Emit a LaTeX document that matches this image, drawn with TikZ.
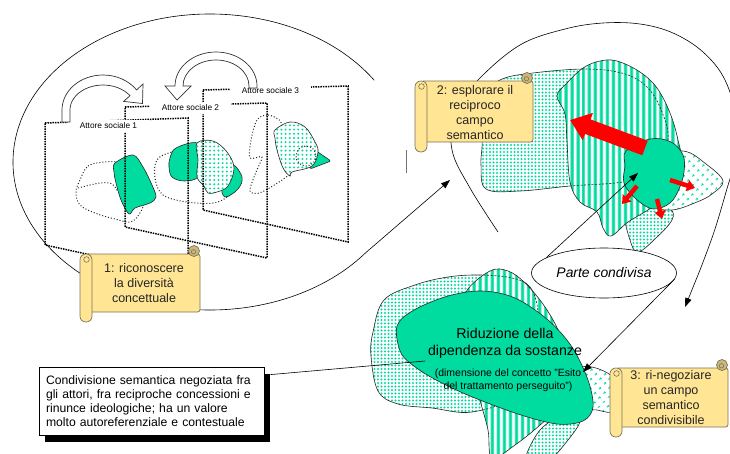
\documentclass[tikz,border=0pt]{standalone}
\usepackage{fontspec}
\setmainfont{Liberation Sans}
\usetikzlibrary{arrows.meta,patterns.meta,shadows,calc,shapes.geometric}

\definecolor{mint}{HTML}{00DCA0}
\definecolor{scrollfill}{HTML}{FFE594}
\definecolor{scrollcurl}{HTML}{CDB77C}
\definecolor{scrollline}{HTML}{7A7355}

\tikzset{
  thinline/.style={draw=black, line width=0.6pt},
  conn/.style={draw=black, line width=0.6pt, -{Triangle[width=6.5pt,length=9pt]}},
  frame/.style={draw=black, densely dotted, line width=1.5pt},
  ghost/.style={draw=black!85, dotted, line width=1pt},
  blobline/.style={draw=black!85, line width=0.6pt},
  hiddenline/.style={draw=black!85, line width=0.6pt, dash pattern=on 2pt off 1.6pt},
  greenblob/.style={fill=mint, draw=black!85, line width=0.6pt},
  finedots/.style={preaction={fill=white}, pattern={Dots[distance=3.5pt, radius=1.1pt]}, pattern color=mint},
  smalldots/.style={preaction={fill=white}, pattern={Dots[distance=4.2pt, radius=1.1pt]}, pattern color=mint},
  sparsedots/.style={preaction={fill=white}, pattern={Dots[distance=6.5pt, radius=1.35pt, angle=45]}, pattern color=mint},
  stripes/.style={preaction={fill=white}, pattern={Lines[angle=90, distance=6.4pt, line width=3.4pt]}, pattern color=mint},
  hollow/.style={fill=white, draw=black!80, line width=0.7pt},
  actorlbl/.style={fill=white, inner xsep=12pt, inner ysep=2.5pt, font=\fontsize{8.3}{10}\selectfont},
  scrolltext/.style={align=center, inner sep=0pt, text=black!85, font=\fontsize{12.5}{15}\selectfont},
  bigred/.style={draw=red, line width=15.5pt, -{Triangle[width=28pt,length=19pt]}},
  smallred/.style={draw=red, line width=4.5pt, -{Triangle[width=11pt,length=8pt]}},
  pics/scroll/.style n args={2}{code={
    \filldraw[draw=scrollline, fill=scrollfill, line width=0.7pt, rounded corners=2.5pt]
      (6,9) -- (#1,9) -- (#1,#2-10) -- (6,#2-10) -- cycle;
    \filldraw[draw=scrollline, fill=scrollcurl, line width=0.7pt] (#1-6,6) circle[radius=5.5];
    \draw[scrollline, line width=0.6pt] (#1-6.5,6.8) circle[radius=2.2];
    \filldraw[draw=scrollline, fill=scrollfill, line width=0.7pt, rounded corners=5.8pt] (0,9) rectangle (12,#2);
    \filldraw[draw=scrollline, fill=scrollfill, line width=0.6pt] (6.5,14.5) circle[radius=2.8];
  }},
}

% outlines of the overlapping semantic fields
\newcommand\shpA{plot[smooth cycle, tension=0.6] coordinates {(478,100) (500,80) (533,73) (587,69) (625,74) (648,88) (662,112) (668,140) (655,172) (623,182) (570,186) (520,191) (486,189) (481,165) (482,140) (476,118)}}
\newcommand\shpB{plot[smooth cycle, tension=0.6] coordinates {(557,96) (566,84) (583,68) (600,61) (617,61) (640,72) (657,88) (670,113) (678,140) (682,168) (668,196) (648,210) (628,222) (611,236) (603,228) (597,212) (580,202) (570,182) (567,142) (565,114)}}
\newcommand\shpE{plot[smooth cycle, tension=0.6] coordinates {(373,332) (384,300) (415,285) (448,277) (480,275) (512,278) (530,287) (538,312) (535,350) (515,395) (472,412) (432,408) (398,404) (378,391) (371,356)}}
\newcommand\shpS{plot[smooth cycle, tension=0.6] coordinates {(466,292) (490,271) (508,271) (525,283) (545,307) (560,335) (568,370) (560,405) (540,425) (515,445) (492,458) (488,430) (480,400) (470,360) (463,320)}}

\begin{document}
\begin{tikzpicture}[x=1pt,y=-1pt]
\useasboundingbox (0,0) rectangle (730,453);
\clip (0,0) rectangle (730,453);

% loop around stage 1, running on into the arrow towards stage 2
\coordinate (toTwo) at (450,180);
\draw[conn] (210,162) ++(-33.5:197 and 148)
  arc[start angle=-33.5, end angle=-322, x radius=197, y radius=148] -- (toTwo);
\draw[black!55, line width=0.6pt] (406.5,150) -- (406.5,173);

% loop around stage 2, running on into the arrow towards stage 3
\coordinate (toThree) at (685,307);
\draw[conn] plot[smooth, tension=0.6] coordinates {(498,232) (470,188) (452,150) (455,112) (478,80) (520,45) (565,29) (603,23) (640,24) (673,33) (703,52) (725,80) (737,122) (734,162) (726,192) (714,232) (700,270)} -- (toThree);

% ---- stage 1: the three actors' fields ----
\draw[ghost] plot[smooth cycle, tension=0.6] coordinates {(80,180) (88,166) (105,162) (120,163) (140,175) (145,200) (133,221) (115,219) (95,213) (80,205) (76,192)};
\draw[ghost] plot[smooth, tension=0.6] coordinates {(78,188) (100,183) (112,184) (118,192)};
\path[greenblob] plot[smooth cycle, tension=0.55] coordinates {(115,163) (133,155) (143,167) (152,185) (156,197) (150,203) (135,208) (129,214) (121,200) (116,183) (114,172)};

\draw[ghost] plot[smooth cycle, tension=0.6] coordinates {(157,160) (172,152) (200,148) (230,160) (238,185) (227,197) (213,203) (187,202) (163,195) (155,178)};
\path[greenblob] plot[smooth cycle, tension=0.6] coordinates {(232,165) (242,177) (238,189) (225,197) (222,185)};
\path[greenblob] plot[smooth cycle, tension=0.6] coordinates {(170,158) (176,148) (197,143) (200,160) (198,177) (184,181) (172,177) (169,167)};
\path[smalldots, blobline] plot[smooth cycle, tension=0.6] coordinates {(197,143) (213,141) (227,152) (234,168) (228,186) (217,192) (208,193) (204,186) (197,177) (198,160)};

\draw[ghost] plot[smooth cycle, tension=0.5] coordinates {(257,120) (268,115) (282,124) (285,160) (292,172) (262,192) (250,191) (256,172) (262,157) (250,158) (251,140)};
\path[greenblob, rounded corners=2pt] (309,146) -- (331,161) -- (310,169) -- cycle;
\path[smalldots, blobline] plot[smooth cycle, tension=0.6] coordinates {(275,130) (290,122) (305,127) (315,142) (318,152) (312,166) (292,172) (290,176) (283,168) (277,150) (275,138)};
\draw[ghost] (306,156) circle[radius=10];

% panels
\draw[frame] (45,123) -- (188,118) -- (188,276) -- (45,245) -- cycle;
\draw[frame] (125,107) -- (267,103) -- (267,258) -- (125,227) -- cycle;
\draw[frame] (203,90) -- (348,86) -- (348,242) -- (203,210) -- cycle;

\node[actorlbl] (a1) at (108.5,126) {Attore sociale 1};
\node[actorlbl] (a2) at (190.5,108) {Attore sociale 2};
\node[actorlbl] (a3) at (270.5,91) {Attore sociale 3};

% hollow exchange arrows
\filldraw[hollow] (70,122) -- (62,122) -- (62,110)
  arc[start angle=180, end angle=325, x radius=41, y radius=35]
  -- (143,84) -- (142.5,103.5) -- (123.6,101.4) -- (130,95.7)
  arc[start angle=325, end angle=180, x radius=33, y radius=25] -- cycle;
\filldraw[hollow] (249,88) -- (257,88) -- (257,86)
  arc[start angle=0, end angle=-180, x radius=41, y radius=34]
  -- (165,86) -- (177,100) -- (191,86) -- (183,86)
  arc[start angle=-180, end angle=0, x radius=33, y radius=26] -- cycle;

% ---- stage 2: exploring the fields ----
\path[finedots, blobline] \shpA;
\path[finedots, blobline] plot[smooth cycle, tension=0.6] coordinates {(626,214) (648,206) (670,209) (672,220) (656,238) (638,252) (630,240)};
\path[stripes, blobline] \shpB;
\begin{scope}
  \clip \shpB;
  \draw[hiddenline] \shpA;
\end{scope}
\path[sparsedots, blobline] plot[smooth cycle, tension=0.6] coordinates {(648,158) (683,151) (706,164) (723,181) (712,194) (697,202) (672,210) (650,205) (640,185)};
\path[greenblob] plot[smooth cycle, tension=0.6] coordinates {(626,151) (650,139) (671,142) (683,155) (684,172) (679,189) (670,203) (653,209) (636,199) (624,183) (625,166)};
\draw[bigred] (645,148) -- (570,120);
\draw[smallred] (670,180) -- (695,188);
\draw[smallred] (637,186) -- (622,204);
\draw[smallred] (657,199) -- (662,219);

% ---- stage 3: the negotiated field ----
\path[finedots, blobline] \shpE;
\path[finedots, blobline] plot[smooth cycle, tension=0.6] coordinates {(525,462) (540,430) (565,415) (580,420) (568,440) (545,464)};
\path[stripes, blobline] \shpS;
\begin{scope}
  \clip \shpS;
  \draw[hiddenline] \shpE;
\end{scope}
\path[sparsedots, blobline] plot[smooth cycle, tension=0.6] coordinates {(578,372) (592,367) (615,380) (615,410) (597,410) (583,405)};
\path[greenblob] plot[smooth cycle, tension=0.55] coordinates {(397,326) (414,310) (448,296) (482,291) (515,298) (548,320) (572,347) (588,380) (593,407) (583,421) (557,424) (518,414) (470,396) (440,382) (418,369) (401,353)};
\node[align=center, inner sep=0pt, font=\fontsize{14.2}{17}\selectfont] (g1) at (505,343.5) {Riduzione della\\dipendenza da sostanze};
\node[align=center, inner sep=0pt, font=\fontsize{10.5}{13}\selectfont] (g2) at (508,380) {(dimensione del concetto "Esito\\del trattamento perseguito")};

% shared part
\node[draw=black, line width=0.6pt, fill=white, ellipse, minimum width=145pt, minimum height=50pt, inner sep=0pt, font=\fontsize{13.9}{16}\selectfont\itshape] (pc) at (604,273) {Parte condivisa};
\coordinate (shareTop) at (638,173);
\coordinate (shareBottom) at (583,372);
\draw[conn] (pc.165) -- (shareTop);
\draw[conn] (pc.-5) -- (shareBottom);

% stage scrolls
\pic at (80,245) {scroll={120}{77}};
\pic at (415,72) {scroll={118}{80}};
\pic at (610,359) {scroll={118}{78}};
\node[scrolltext] (s1) at (144,283) {1: riconoscere\\la diversità\\concettuale};
\node[scrolltext] (s2) at (475,112.5) {2: esplorare il\\reciproco\\campo\\semantico};
\node[scrolltext] (s3) at (671,398) {3: ri-negoziare\\un campo\\semantico\\condivisibile};

% note box
\node[draw=black, line width=0.8pt, fill=white, minimum width=225pt, minimum height=68pt,
      text width=211pt, inner xsep=7pt, align=left, font=\fontsize{12.2}{14}\selectfont,
      drop shadow={opacity=1, fill=black, shadow xshift=6pt, shadow yshift=-7pt}] (tb) at (151.5,401)
  {Condivisione semantica negoziata fra\\gli attori, fra reciproche concessioni e\\rinunce ideologiche; ha un valore\\molto autoreferenziale e contestuale};
\coordinate (noteEnd) at (425,361);
\draw[thinline] ($(tb.north east)+(6,8)$) -- (noteEnd);
\end{tikzpicture}
\end{document}
